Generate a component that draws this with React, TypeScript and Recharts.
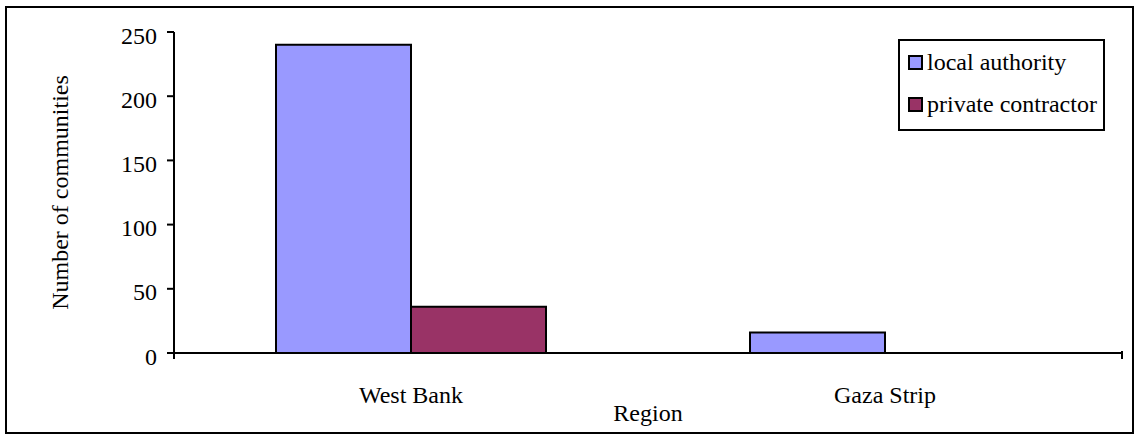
import { BarChart, Bar, XAxis, YAxis, Legend } from 'recharts'

const regions = ['West Bank', 'Gaza Strip']
const localAuthority = [240, 16]
const privateContractor = [36, 0]
const yTicks = [0, 50, 100, 150, 200, 250]
const edgeTicks = [0, 1, 2]

const seriesInfo = [
  { key: 'local', name: 'local authority', color: '#9999FF' },
  { key: 'private', name: 'private contractor', color: '#993366' },
]

const data = regions.map((region, i) => ({
  region,
  local: localAuthority[i],
  private: privateContractor[i],
}))

const FONT = '"Liberation Serif", "Times New Roman", serif'

function LegendBox() {
  return (
    <div
      style={{
        border: '2px solid #000',
        background: '#fff',
        paddingBottom: 4,
        fontFamily: FONT,
        fontSize: 24,
        color: '#000',
        boxSizing: 'border-box',
        width: 207,
      }}
    >
      {seriesInfo.map((s) => (
        <div key={s.key} style={{ height: 42, display: 'flex', alignItems: 'center', paddingLeft: 8 }}>
          <span
            style={{
              display: 'inline-block',
              width: 15,
              height: 15,
              boxSizing: 'border-box',
              border: '2px solid #000',
              background: s.color,
              marginRight: 4,
            }}
          />
          <span style={{ whiteSpace: 'nowrap' }}>{s.name}</span>
        </div>
      ))}
    </div>
  )
}

// short downward mark at each region boundary
function EdgeTick(props: any) {
  const { x, y } = props
  return <line x1={x} x2={x} y1={y - 2} y2={y + 6} stroke="#000" strokeWidth={2} />
}

export default function App() {
  return (
    <>
      <style>{'body { margin: 0; }'}</style>
      <BarChart
        width={1136}
        height={440}
        data={data}
        margin={{ top: 32, right: 14, left: 114, bottom: 17 }}
        barCategoryGap={102}
        barGap={0}
        style={{ fontFamily: FONT, background: '#fff' }}
      >
        {/* outer frame */}
        <rect x={6} y={7} width={1127} height={426} fill="none" stroke="#000" strokeWidth={2} />
        <XAxis
          type="number"
          domain={[0, 2]}
          ticks={edgeTicks}
          interval={0}
          tick={<EdgeTick />}
          tickLine={false}
          tickSize={0}
          tickMargin={0}
          axisLine={{ stroke: '#000', strokeWidth: 2 }}
          height={1}
        />
        <XAxis
          xAxisId="regions"
          dataKey="region"
          height={69}
          axisLine={false}
          tickLine={false}
          tickSize={8}
          tickMargin={24}
          tick={{ fill: '#000', fontSize: 24, fontFamily: FONT }}
          label={{
            content: ({ viewBox }: any) => (
              <text
                x={viewBox.x + viewBox.width / 2}
                y={viewBox.y + 67}
                textAnchor="middle"
                fill="#000"
                fontSize={24}
                fontFamily={FONT}
              >
                Region
              </text>
            ),
          }}
        />
        <YAxis
          width={60}
          domain={[0, 250]}
          ticks={yTicks}
          tickSize={7}
          tickMargin={10}
          axisLine={{ stroke: '#000', strokeWidth: 2 }}
          tickLine={{ stroke: '#000', strokeWidth: 2 }}
          tick={{ fill: '#000', fontSize: 24, fontFamily: FONT, dy: 3 }}
          label={{
            content: ({ viewBox }: any) => {
              const cx = viewBox.x - 46
              const cy = viewBox.y + viewBox.height / 2
              return (
                <text
                  x={cx}
                  y={cy}
                  transform={`rotate(-90, ${cx}, ${cy})`}
                  textAnchor="middle"
                  fill="#000"
                  fontSize={24}
                  fontFamily={FONT}
                >
                  Number of communities
                </text>
              )
            },
          }}
        />
        {/* horizontal + middle + center keeps the legend from shrinking the plot */}
        <Legend
          layout="horizontal"
          verticalAlign="middle"
          align="center"
          content={() => <LegendBox />}
          wrapperStyle={{ top: 39, left: 898, right: 'auto', bottom: 'auto', width: 207 }}
        />
        {seriesInfo.map((s) => (
          <Bar
            key={s.key}
            xAxisId="regions"
            dataKey={s.key}
            name={s.name}
            fill={s.color}
            stroke="#000"
            strokeWidth={2}
            isAnimationActive={false}
          />
        ))}
      </BarChart>
    </>
  )
}
